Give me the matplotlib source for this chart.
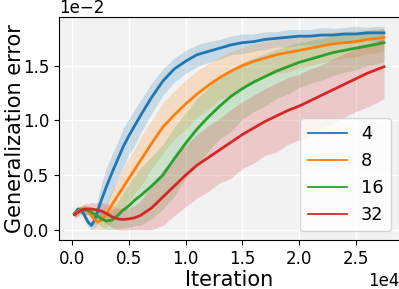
import matplotlib
matplotlib.use('Agg')
import matplotlib.pyplot as plt
from matplotlib.ticker import MultipleLocator
import numpy as np

# iteration grid shared by all runs
iters = [200, 500, 800, 1100, 1400, 1700, 2000, 2300, 2600, 3000, 3500, 4000, 4500,
         5000, 5500, 6000, 7000, 8000, 9000, 10000, 11000, 12000, 13000, 14000,
         15000, 16000, 17000, 18000, 19000, 20000, 21000, 22000, 23000, 24000,
         25000, 26000, 27000, 27500]

labels = ['4', '8', '16', '32']

# mean generalization error (units of 1e-2)
mean_4 = [0.15, 0.19, 0.18, 0.13, 0.07, 0.04, 0.09, 0.19, 0.28, 0.39, 0.52, 0.64, 0.76,
          0.86, 0.95, 1.04, 1.21, 1.36, 1.47, 1.54, 1.60, 1.63, 1.66, 1.69, 1.71, 1.72,
          1.74, 1.75, 1.76, 1.77, 1.77, 1.78, 1.78, 1.79, 1.79, 1.80, 1.80, 1.80]
mean_8 = [0.15, 0.17, 0.19, 0.19, 0.17, 0.13, 0.09, 0.07, 0.09, 0.14, 0.23, 0.31, 0.39,
          0.47, 0.55, 0.63, 0.79, 0.94, 1.05, 1.15, 1.24, 1.32, 1.39, 1.45, 1.50, 1.54,
          1.57, 1.60, 1.62, 1.64, 1.66, 1.68, 1.70, 1.71, 1.72, 1.74, 1.75, 1.76]
mean_16 = [0.14, 0.16, 0.18, 0.18, 0.18, 0.16, 0.14, 0.12, 0.10, 0.08, 0.09, 0.13, 0.18,
           0.22, 0.27, 0.31, 0.40, 0.50, 0.65, 0.79, 0.92, 1.03, 1.13, 1.22, 1.29, 1.35,
           1.40, 1.45, 1.49, 1.53, 1.56, 1.59, 1.62, 1.64, 1.66, 1.68, 1.70, 1.71]
mean_32 = [0.14, 0.16, 0.18, 0.19, 0.19, 0.19, 0.185, 0.18, 0.17, 0.15, 0.12, 0.10, 0.095,
           0.10, 0.11, 0.13, 0.20, 0.30, 0.40, 0.50, 0.59, 0.66, 0.73, 0.80, 0.87, 0.93,
           0.99, 1.04, 1.09, 1.13, 1.18, 1.23, 1.28, 1.33, 1.38, 1.43, 1.47, 1.49]

# lower / upper edge offsets of the shaded band across seeds
low_4 = [0.03, 0.03, 0.03, 0.04, 0.04, 0.04, 0.08, 0.12, 0.16, 0.18, 0.19, 0.18, 0.19,
         0.17, 0.18, 0.16, 0.15, 0.13, 0.12, 0.11, 0.11, 0.10, 0.10, 0.09, 0.10, 0.09,
         0.09, 0.08, 0.09, 0.08, 0.08, 0.09, 0.08, 0.08, 0.08, 0.07, 0.08, 0.08]
up_4 = [0.03, 0.03, 0.03, 0.03, 0.03, 0.04, 0.07, 0.11, 0.15, 0.17, 0.17, 0.16, 0.17,
        0.15, 0.15, 0.14, 0.13, 0.11, 0.10, 0.10, 0.09, 0.09, 0.08, 0.08, 0.08, 0.07,
        0.07, 0.06, 0.07, 0.06, 0.06, 0.07, 0.06, 0.06, 0.07, 0.05, 0.06, 0.06]
low_8 = [0.03, 0.03, 0.03, 0.04, 0.05, 0.06, 0.07, 0.07, 0.09, 0.12, 0.16, 0.18, 0.20,
         0.22, 0.21, 0.24, 0.23, 0.24, 0.22, 0.23, 0.21, 0.22, 0.20, 0.21, 0.19, 0.19,
         0.18, 0.17, 0.18, 0.16, 0.16, 0.15, 0.15, 0.14, 0.14, 0.13, 0.13, 0.12]
up_8 = [0.03, 0.03, 0.03, 0.04, 0.04, 0.05, 0.06, 0.07, 0.08, 0.10, 0.13, 0.15, 0.17,
        0.19, 0.19, 0.21, 0.21, 0.22, 0.22, 0.22, 0.21, 0.20, 0.19, 0.18, 0.17, 0.16,
        0.15, 0.14, 0.14, 0.13, 0.12, 0.11, 0.11, 0.10, 0.10, 0.09, 0.09, 0.08]
low_16 = [0.03, 0.03, 0.03, 0.04, 0.04, 0.05, 0.06, 0.07, 0.07, 0.08, 0.09, 0.12, 0.16,
          0.20, 0.23, 0.27, 0.30, 0.31, 0.34, 0.32, 0.34, 0.31, 0.30, 0.32, 0.28, 0.27,
          0.27, 0.25, 0.25, 0.23, 0.22, 0.22, 0.21, 0.20, 0.20, 0.18, 0.18, 0.17]
up_16 = [0.03, 0.03, 0.03, 0.04, 0.04, 0.05, 0.05, 0.06, 0.07, 0.08, 0.09, 0.12, 0.16,
         0.20, 0.22, 0.25, 0.27, 0.28, 0.29, 0.28, 0.28, 0.27, 0.26, 0.25, 0.24, 0.22,
         0.21, 0.20, 0.19, 0.18, 0.17, 0.16, 0.15, 0.15, 0.14, 0.14, 0.13, 0.13]
low_32 = [0.03, 0.04, 0.04, 0.05, 0.05, 0.06, 0.06, 0.07, 0.08, 0.09, 0.10, 0.10, 0.10,
          0.10, 0.11, 0.13, 0.20, 0.26, 0.27, 0.29, 0.30, 0.31, 0.30, 0.33, 0.31, 0.32,
          0.31, 0.33, 0.31, 0.31, 0.33, 0.30, 0.31, 0.30, 0.30, 0.31, 0.30, 0.29]
up_32 = [0.03, 0.04, 0.04, 0.05, 0.05, 0.06, 0.06, 0.07, 0.08, 0.09, 0.10, 0.10, 0.10,
         0.10, 0.11, 0.13, 0.20, 0.25, 0.26, 0.27, 0.28, 0.29, 0.29, 0.30, 0.30, 0.30,
         0.30, 0.30, 0.30, 0.29, 0.29, 0.28, 0.28, 0.28, 0.27, 0.27, 0.26, 0.26]

means = [mean_4, mean_8, mean_16, mean_32]
lows = [low_4, low_8, low_16, low_32]
ups = [up_4, up_8, up_16, up_32]
colors = ['#1f77b4', '#ff7f0e', '#2ca02c', '#d62728']

fig = plt.figure(figsize=(3.99, 2.89), dpi=100)
ax = fig.add_axes([59 / 399, 49 / 289, 340.5 / 399, 223 / 289])
ax.set_facecolor('#f2f2f2')
ax.grid(True, color='white', linewidth=1)
ax.set_axisbelow(True)

x = np.array(iters)
for m, lo, hi, c, lab in zip(means, lows, ups, colors, labels):
    m = np.array(m) * 1e-2
    lo = np.array(lo) * 1e-2
    hi = np.array(hi) * 1e-2
    ax.fill_between(x, m - lo, m + hi, color=c, alpha=0.2, linewidth=0)
    ax.plot(x, m, color=c, linewidth=2, label=lab)

ax.set_xlim(-1165, 28865)
ax.set_ylim(-0.093e-2, 1.945e-2)
ax.xaxis.set_major_locator(MultipleLocator(5000))
ax.ticklabel_format(style='sci', axis='both', scilimits=(0, 0))
ax.xaxis.get_offset_text().set_fontsize(12)
ax.yaxis.get_offset_text().set_fontsize(12)
ax.tick_params(labelsize=12)
ax.set_xlabel('Iteration', fontsize=15, labelpad=2)
ax.set_ylabel('Generalization error', fontsize=15)
ax.yaxis.set_label_coords(-0.10, 0.5)

leg = ax.legend(loc='lower right', fontsize=12.8, handlelength=2.2)
for line in leg.get_lines():
    line.set_linewidth(1.3)

fig.savefig('out.png', dpi=100)
